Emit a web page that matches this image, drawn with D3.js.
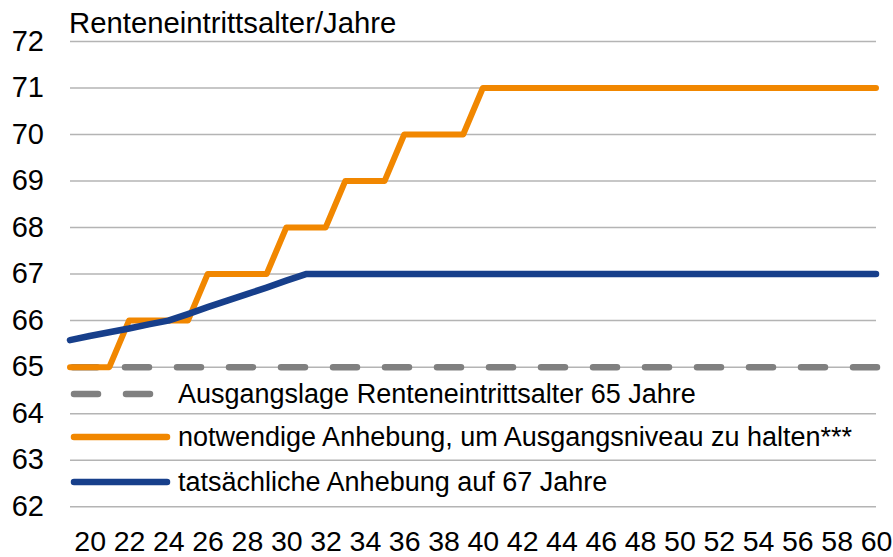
<!DOCTYPE html>
<html>
<head>
<meta charset="utf-8">
<script src="https://cdn.jsdelivr.net/npm/d3@7"></script>
<style>
  body { margin: 0; background: #fff; }
  text { font-family: "Liberation Sans", Arial, sans-serif; fill: #000; }
</style>
</head>
<body>
<div id="chart"></div>
<script>
var ages = [19, 20, 21, 22, 23, 24, 25, 26, 27, 28, 29, 30, 31, 32, 33, 34, 35, 36, 37, 38, 39, 40,
  41, 42, 43, 44, 45, 46, 47, 48, 49, 50, 51, 52, 53, 54, 55, 56, 57, 58, 59, 60];

var ausgangslage = [65, 65, 65, 65, 65, 65, 65, 65, 65, 65, 65, 65, 65, 65, 65, 65, 65, 65, 65, 65, 65, 65,
  65, 65, 65, 65, 65, 65, 65, 65, 65, 65, 65, 65, 65, 65, 65, 65, 65, 65, 65, 65];

var notwendig = [65, 65, 65, 66, 66, 66, 66, 67, 67, 67, 67, 68, 68, 68, 69, 69, 69, 70, 70, 70, 70, 71,
  71, 71, 71, 71, 71, 71, 71, 71, 71, 71, 71, 71, 71, 71, 71, 71, 71, 71, 71, 71];

var tatsaechlich = [65.58, 65.67, 65.75, 65.83, 65.92, 66, 66.14, 66.29, 66.43, 66.57, 66.71, 66.86, 67, 67,
  67, 67, 67, 67, 67, 67, 67, 67, 67, 67, 67, 67, 67, 67, 67, 67, 67, 67, 67, 67, 67, 67, 67, 67, 67, 67, 67, 67];

var xTicks = [20, 22, 24, 26, 28, 30, 32, 34, 36, 38, 40, 42, 44, 46, 48, 50, 52, 54, 56, 58, 60];
var yTicks = [62, 63, 64, 65, 66, 67, 68, 69, 70, 71, 72];

var legendLabels = [
  "Ausgangslage Renteneintrittsalter 65 Jahre",
  "notwendige Anhebung, um Ausgangsniveau zu halten***",
  "tatsächliche Anhebung auf 67 Jahre"
];

var width = 893;
var height = 557;

var svg = d3.select("#chart")
  .append("svg")
    .attr("width", width)
    .attr("height", height);

var x = d3.scaleLinear()
    .domain([19, 60])
    .range([70, 876]);

var y = d3.scaleLinear()
    .domain([62, 72])
    .range([506.7, 41.5]);

svg.append("g")
  .selectAll("line")
  .data(yTicks)
  .enter().append("line")
    .attr("x1", x(19))
    .attr("x2", x(60))
    .attr("y1", function (d) { return y(d); })
    .attr("y2", function (d) { return y(d); })
    .attr("stroke", "#b4b4b4")
    .attr("stroke-width", 1.5);

var yAxis = svg.append("g")
    .attr("transform", "translate(44,0)")
    .call(d3.axisLeft(y).tickValues(yTicks).tickSize(0).tickPadding(0).tickFormat(d3.format("d")));
yAxis.select(".domain").remove();
yAxis.selectAll("text")
    .attr("dy", "0.3em")
    .style("font-size", "29px");

var xAxis = svg.append("g")
    .attr("transform", "translate(0,530)")
    .call(d3.axisBottom(x).tickValues(xTicks).tickSize(0).tickPadding(0).tickFormat(d3.format("d")));
xAxis.select(".domain").remove();
xAxis.selectAll("text")
    .attr("dy", "0.75em")
    .style("font-size", "28.5px");

svg.append("text")
    .attr("x", 69)
    .attr("y", 33)
    .style("font-size", "29.3px")
    .text("Renteneintrittsalter/Jahre");

var line = d3.line()
    .x(function (d, i) { return x(ages[i]); })
    .y(function (d) { return y(d); });

svg.append("path")
    .datum(ausgangslage)
    .attr("d", line)
    .attr("fill", "none")
    .attr("stroke", "#808080")
    .attr("stroke-width", 6.5)
    .attr("stroke-linecap", "round")
    .attr("stroke-dasharray", "24,28")
    .attr("transform", "translate(3,0)");

svg.append("path")
    .datum(notwendig)
    .attr("d", line)
    .attr("fill", "none")
    .attr("stroke", "#f18700")
    .attr("stroke-width", 6)
    .attr("stroke-linejoin", "round")
    .attr("stroke-linecap", "round");

svg.append("path")
    .datum(tatsaechlich)
    .attr("d", line)
    .attr("fill", "none")
    .attr("stroke", "#173f8b")
    .attr("stroke-width", 6.5)
    .attr("stroke-linejoin", "round")
    .attr("stroke-linecap", "round");

var legendStyles = [
  { color: "#808080", dash: "24,28" },
  { color: "#f18700", dash: null },
  { color: "#173f8b", dash: null }
];
var legendRows = [394, 437, 482];

var legendItem = svg.selectAll(".legend")
  .data(legendLabels)
  .enter().append("g")
    .attr("class", "legend")
    .attr("transform", function (d, i) {
      return "translate(0," + legendRows[i] + ")";
    });

legendItem.append("line")
    .attr("x1", 74)
    .attr("x2", 167)
    .attr("y1", 0)
    .attr("y2", 0)
    .attr("stroke", function (d, i) { return legendStyles[i].color; })
    .attr("stroke-width", 6.5)
    .attr("stroke-linecap", "round")
    .attr("stroke-dasharray", function (d, i) { return legendStyles[i].dash; });

legendItem.append("text")
    .attr("x", 178)
    .attr("y", 0)
    .attr("dy", "0.35em")
    .style("font-size", "27px")
    .text(function (d) { return d; });
</script>
</body>
</html>
